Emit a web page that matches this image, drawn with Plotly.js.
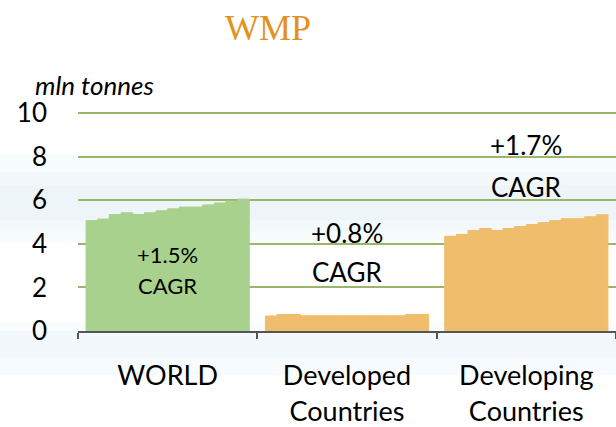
<!DOCTYPE html>
<html>
<head>
<meta charset="utf-8">
<script src="https://cdn.plot.ly/plotly-3.0.1.min.js"></script>
<style>
html,body{margin:0;padding:0;background:#fff;}
#chart{width:616px;height:427px;}
</style>
</head>
<body>
<div id="chart"></div>
<script>
// Categories and tick labels
var categories = ["WORLD", "Developed<br>Countries", "Developing<br>Countries"];
// 14 yearly values per region (mln tonnes)
var world      = [5.07, 5.14, 5.35, 5.43, 5.35, 5.43, 5.52, 5.61, 5.69, 5.69, 5.79, 5.88, 5.96, 6.06];
var developed  = [0.69, 0.76, 0.76, 0.70, 0.70, 0.70, 0.70, 0.70, 0.70, 0.70, 0.70, 0.70, 0.76, 0.76];
var developing = [4.35, 4.44, 4.62, 4.71, 4.62, 4.71, 4.80, 4.89, 4.98, 5.07, 5.16, 5.16, 5.25, 5.34];
var cagrLabels = ["+1.5%", "+0.8%", "+1.7%"];

var barColors = ["#A9D18E", "#F0BD6C", "#F0BD6C"];

var traces = [];
for (var i = 0; i < world.length; i++) {
  traces.push({
    type: "bar",
    x: categories,
    y: [world[i], developed[i], developing[i]],
    marker: {color: barColors, line: {width: 1, color: barColors}},
    hoverinfo: "skip",
    showlegend: false
  });
}

var font = "Lato, 'Open Sans', sans-serif";

var annotations = [
  {x: 0, y: 3.5, text: cagrLabels[0], size: 22},
  {x: 0, y: 2.1, text: "CAGR", size: 22},
  {x: 1, y: 4.5, text: cagrLabels[1], size: 26},
  {x: 1, y: 2.7, text: "CAGR", size: 26},
  {x: 2, y: 8.55, text: cagrLabels[2], size: 26},
  {x: 2, y: 6.6, text: "CAGR", size: 26}
].map(function(a){
  return {x: a.x, y: a.y, xref: "x", yref: "y", text: a.text, showarrow: false,
          xanchor: "center", yanchor: "middle",
          font: {family: font, size: a.size, color: "#000"}};
});

var yMax = 10.15;
var plotTop = 331 - 21.8 * yMax;
var plotH = 331 - plotTop;
annotations.push({
  x: (33 - 78) / 538, y: (331 - 85) / plotH, xref: "paper", yref: "paper", showarrow: false,
  text: "<i>mln tonnes</i>", xanchor: "left", yanchor: "middle",
  font: {family: font, size: 26, color: "#000"}
});

// soft background haze
var shapes = [];
var haze = [[0.40, 0.80, 0.10], [0.45, 0.72, 0.10], [0.50, 0.66, 0.12], [-0.12, 0.04, 0.10], [-0.2, 0.0, 0.12]];
haze.forEach(function(h){
  shapes.push({type: "rect", xref: "paper", yref: "paper", x0: -0.2, x1: 1.1, y0: h[0], y1: h[1],
               fillcolor: "rgba(200,222,236," + h[2] + ")", line: {width: 0}, layer: "below"});
});

var layout = {
  width: 616, height: 427,
  margin: {l: 78, r: 0, t: Math.round(plotTop), b: 96, pad: 0},
  paper_bgcolor: "#ffffff",
  plot_bgcolor: "rgba(0,0,0,0)",
  barmode: "group",
  bargap: 0.09,
  bargroupgap: 0,
  title: {
    text: "WMP",
    x: 268/616, xref: "container", xanchor: "center",
    y: 1 - 27/427, yref: "container", yanchor: "middle",
    font: {family: "'Liberation Serif', 'DejaVu Serif', serif", size: 36, color: "#E3921E"}
  },
  xaxis: {
    type: "category",
    tickson: "boundaries",
    ticks: "outside", ticklen: 6, tickcolor: "#555", tickwidth: 2,
    showline: true, linecolor: "#555", linewidth: 2,
    showgrid: false,
    ticklabelstandoff: 20,
    tickfont: {family: font, size: 27, color: "#000"},
    automargin: false
  },
  yaxis: {
    range: [0, yMax], tickvals: [0, 2, 4, 6, 8, 10],
    showgrid: true, gridcolor: "#9BB56A", gridwidth: 2,
    zeroline: false, showline: false, ticks: "",
    ticklabelstandoff: 30,
    tickfont: {family: font, size: 26, color: "#000"},
    automargin: false
  },
  shapes: shapes,
  annotations: annotations
};

Plotly.newPlot("chart", traces, layout, {staticPlot: true, displayModeBar: false});
</script>
</body>
</html>
